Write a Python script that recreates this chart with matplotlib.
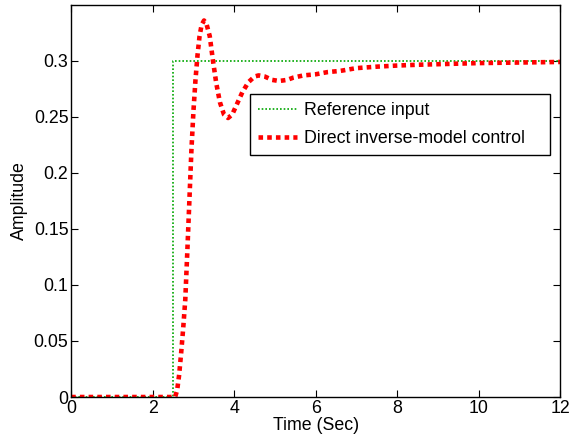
import matplotlib
matplotlib.use('Agg')
import matplotlib.pyplot as plt

plt.rcParams['font.family'] = ['Liberation Sans', 'DejaVu Sans']
plt.rcParams['font.size'] = 12.8

# 参考输入（阶跃）
ref_t = [0, 2.5, 2.5, 12]
ref_y = [0, 0, 0.3, 0.3]

# 直接逆模型控制响应
ctl_t = [0, 2.5, 2.55, 2.6, 2.65, 2.7, 2.75, 2.8, 2.85, 2.9, 2.95, 3.0, 3.05,
         3.1, 3.15, 3.2, 3.26, 3.32, 3.4, 3.48, 3.56, 3.65, 3.75, 3.85, 3.95,
         4.05, 4.2, 4.35, 4.5, 4.6, 4.75, 4.93, 5.1, 5.3, 5.45, 5.7, 6.0, 6.3,
         6.6, 7.0, 7.5, 8.0, 8.5, 9.0, 9.5, 10, 11, 12]
ctl_y = [0, 0, 0.0, 0.006, 0.02, 0.04, 0.062, 0.087, 0.13, 0.175, 0.22, 0.255,
         0.283, 0.305, 0.322, 0.332, 0.336, 0.333, 0.322, 0.30, 0.28, 0.263,
         0.252, 0.249, 0.252, 0.26, 0.272, 0.281, 0.286, 0.287, 0.286, 0.283,
         0.282, 0.283, 0.285, 0.287, 0.288, 0.290, 0.291, 0.2935, 0.2948,
         0.2958, 0.2965, 0.297, 0.2975, 0.298, 0.2985, 0.299]

xticks = [0, 2, 4, 6, 8, 10, 12]
yticks = [0, 0.05, 0.1, 0.15, 0.2, 0.25, 0.3]
yticklabels = ['0', '0.05', '0.1', '0.15', '0.2', '0.25', '0.3']

fig = plt.figure(figsize=(5.74, 4.37), dpi=100)
ax = fig.add_axes([0.124, 0.0915, 0.852, 0.8975])

ax.plot(ref_t, ref_y, color=(0, 0.65, 0), lw=1.2, linestyle=(0, (1, 1.2)),
        label='Reference input')
ax.plot(ctl_t, ctl_y, color='red', lw=3.3, linestyle=(0, (1, 0.9)),
        dash_capstyle='butt', label='Direct inverse-model control')

ax.set_xlim(0, 12)
ax.set_ylim(0, 0.35)
ax.set_xticks(xticks)
ax.set_yticks(yticks)
ax.set_yticklabels(yticklabels)
ax.tick_params(direction='in', top=True, right=True, length=5, width=0.8, pad=2)
for s in ax.spines.values():
    s.set_linewidth(1)
ax.set_xlabel('Time (Sec)', labelpad=0)
ax.set_ylabel('Amplitude', labelpad=4)

# 图例：左上角固定，水平方向展开到右边框
leg = ax.legend(loc='upper left', bbox_to_anchor=(0.366, 0.772, 0.614, 0.0),
                mode='expand', fancybox=False, framealpha=1, edgecolor='black',
                borderpad=0.45, handlelength=2.2, handletextpad=0.35,
                labelspacing=0.6, borderaxespad=0)
leg.get_frame().set_linewidth(1)

plt.savefig('out.png', dpi=100)
